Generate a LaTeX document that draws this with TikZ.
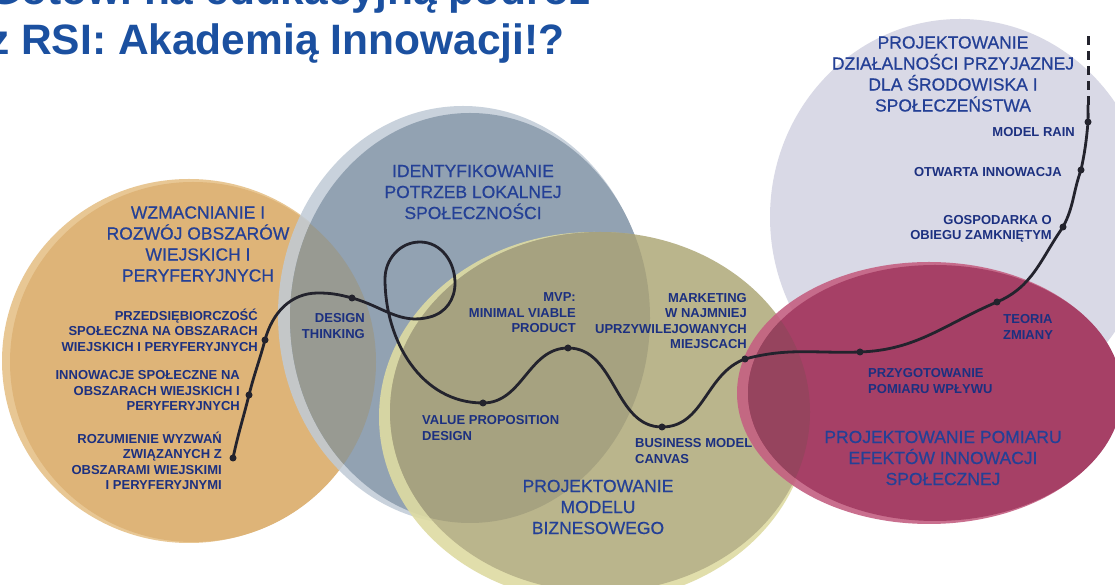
\documentclass[tikz,border=0pt]{standalone}
\usepackage{fontspec}
\setmainfont{Liberation Sans}
\newfontfamily\semibold[FakeBold=0.6]{Liberation Sans}
\definecolor{orF}{RGB}{222,180,120}
\definecolor{orR}{RGB}{232,199,148}
\definecolor{blF}{RGB}{146,162,178}
\definecolor{blR}{RGB}{192,203,215}
\definecolor{obX}{RGB}{152,154,146}
\definecolor{olF}{RGB}{186,181,140}
\definecolor{olR}{RGB}{222,219,162}
\definecolor{bolX}{RGB}{166,162,128}
\definecolor{lvF}{RGB}{217,217,230}
\definecolor{crF}{RGB}{166,64,102}
\definecolor{crR}{RGB}{196,96,130}
\definecolor{colX}{RGB}{150,68,94}
\definecolor{titleblue}{RGB}{27,80,160}
\definecolor{bigblue}{RGB}{36,64,150}
\definecolor{smallblue}{RGB}{28,48,128}
\definecolor{curvec}{RGB}{35,35,45}
\def\ellO{(193,223) ellipse [x radius=183pt, y radius=180pt]}
\def\ellB{(470,267) ellipse [x radius=180pt, y radius=205pt]}
\def\ellG{(600,173) ellipse [x radius=210pt, y radius=180pt]}
\def\ellL{(960,368) ellipse [x radius=190pt, y radius=198pt]}
\def\ellC{(935,192) ellipse [x radius=187pt, y radius=128pt]}
\begin{document}
\begin{tikzpicture}[x=1pt,y=1pt,
  big/.style={font=\semibold\fontsize{17.5}{21}\selectfont, text=bigblue, align=center, inner sep=0pt},
  small/.style={font=\fontsize{13}{15.5}\selectfont\bfseries, text=smallblue, inner sep=0pt},
  ttl/.style={font=\fontsize{42.5}{50}\selectfont\bfseries, text=titleblue, inner sep=0pt, anchor=base west},
  dot/.style={circle, fill=curvec, inner sep=0pt, minimum size=7pt},
  curve/.style={draw=curvec, line width=2.8pt, line cap=round},
  dashline/.style={draw=curvec, line width=3pt, dash pattern=on 9pt off 6pt}]
\useasboundingbox (0,0) rectangle (1115,585);
\clip (0,0) rectangle (1115,585);
\fill[white] (0,0) rectangle (1115,585);
% lavender
\fill[lvF] \ellL;
% orange
\fill[orR] (189,224) ellipse [x radius=187pt, y radius=182pt];
\fill[orF] \ellO;
% blue-gray
\fill[blR, opacity=0.85] (463,270) ellipse [x radius=185pt, y radius=209pt];
\fill[blF] \ellB;
\begin{scope}
  \clip \ellB;
  \fill[obX] \ellO;
\end{scope}
% olive
\fill[olR, opacity=0.9] (594,168) ellipse [x radius=215pt, y radius=185pt];
\fill[olF] \ellG;
\begin{scope}
  \clip \ellG;
  \fill[bolX] \ellB;
\end{scope}
% crimson
\fill[crR, opacity=0.9] (929,192) ellipse [x radius=192pt, y radius=131pt];
\fill[crF] \ellC;
\begin{scope}
  \clip \ellC;
  \fill[colX] \ellG;
\end{scope}
% title
\node[ttl] (t1) at (-12,580) {Gotowi na edukacyjną podróż};
\node[ttl] (t2) at (-12,530) {z RSI: Akademią Innowacji!?};
% big labels
\node[big] (wz) at (198,341) {WZMACNIANIE I\\ROZWÓJ OBSZARÓW\\WIEJSKICH I\\PERYFERYJNYCH};
\node[big] (id) at (473,393) {IDENTYFIKOWANIE\\POTRZEB LOKALNEJ\\SPOŁECZNOŚCI};
\node[big] (pm) at (598,78) {PROJEKTOWANIE\\MODELU\\BIZNESOWEGO};
\node[big] (pd) at (953,511) {PROJEKTOWANIE\\DZIAŁALNOŚCI PRZYJAZNEJ\\DLA ŚRODOWISKA I\\SPOŁECZEŃSTWA};
\node[big] (pp) at (943,127) {PROJEKTOWANIE POMIARU\\EFEKTÓW INNOWACJI\\SPOŁECZNEJ};
% small labels
\node[small, align=right, anchor=east] (s1) at (258,255) {PRZEDSIĘBIORCZOŚĆ\\SPOŁECZNA NA OBSZARACH\\WIEJSKICH I PERYFERYJNYCH};
\node[small, align=right, anchor=east] (s2) at (240,194) {INNOWACJE SPOŁECZNE NA\\OBSZARACH WIEJSKICH I\\PERYFERYJNYCH};
\node[small, align=right, anchor=east] (s3) at (222,124) {ROZUMIENIE WYZWAŃ\\ZWIĄZANYCH Z\\OBSZARAMI WIEJSKIMI\\I PERYFERYJNYMI};
\node[small, align=right, anchor=east] (s4) at (365,259) {DESIGN\\THINKING};
\node[small, align=right, anchor=east] (s5) at (576,272) {MVP:\\MINIMAL VIABLE\\PRODUCT};
\node[small, align=right, anchor=east] (s6) at (747,264) {MARKETING\\W NAJMNIEJ\\UPRZYWILEJOWANYCH\\MIEJSCACH};
\node[small, align=left, anchor=west] (s7) at (422,157) {VALUE PROPOSITION\\DESIGN};
\node[small, align=left, anchor=west] (s8) at (635,134) {BUSINESS MODEL\\CANVAS};
\node[small, align=left, anchor=west] (s9) at (868,204) {PRZYGOTOWANIE\\POMIARU WPŁYWU};
\node[small, align=center] (s10) at (1028,258) {TEORIA\\ZMIANY};
\node[small, align=right, anchor=east] (s11) at (1052,356) {GOSPODARKA O\\OBIEGU ZAMKNIĘTYM};
\node[small, align=right, anchor=east] (s12) at (1062,413) {OTWARTA INNOWACJA};
\node[small, align=right, anchor=east] (s13) at (1075,453) {MODEL RAIN};
% curve points
\node[dot] (d1) at (233,127) {};
\node[dot] (d2) at (249,190) {};
\node[dot] (d3) at (265,245) {};
\node[dot] (d4) at (352,287) {};
\node[dot] (d5) at (483,182) {};
\node[dot] (d6) at (568,237) {};
\node[dot] (d7) at (662,158) {};
\node[dot] (d8) at (745,226) {};
\node[dot] (d9) at (860,233) {};
\node[dot] (d10) at (997,283) {};
\node[dot] (d11) at (1063,358) {};
\node[dot] (d12) at (1081,415) {};
\node[dot] (d13) at (1088,463) {};
\coordinate (pk) at (318,292);
\coordinate (lb) at (430,268);
\coordinate (lr) at (455,302);
\coordinate (lt) at (420,343);
\coordinate (ll) at (385,306);
\coordinate (e) at (1088,480);
\coordinate (top) at (1088,553);
\draw[curve] (d1.center) to[out=78,in=256] (d2.center)
  to[out=76,in=255] (d3.center)
  to[out=75,in=180] (pk)
  to[out=0,in=165] (d4.center)
  to[out=-15,in=195] (lb)
  to[out=15,in=-90] (lr)
  to[out=90,in=0] (lt)
  to[out=180,in=90] (ll)
  to[out=-90,in=180] (d5.center)
  to[out=0,in=180] (d6.center)
  to[out=0,in=180] (d7.center)
  to[out=0,in=200] (d8.center)
  to[out=15,in=182] (d9.center)
  to[out=2,in=203] (d10.center)
  to[out=23,in=235] (d11.center)
  to[out=62,in=250] (d12.center)
  to[out=78,in=265] (d13.center)
  to[out=88,in=-90] (e);
\draw[dashline] (e) -- (top);
\end{tikzpicture}
\end{document}
